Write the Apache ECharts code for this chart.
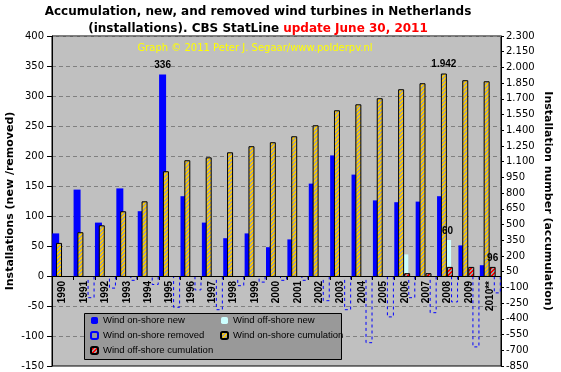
<!DOCTYPE html>
<html><head><meta charset="utf-8">
<script src="https://cdn.jsdelivr.net/npm/echarts@6/dist/echarts.min.js"></script>
<style>html,body{margin:0;padding:0;background:#fff}#c{width:561px;height:372px}</style>
</head><body><div id="c"></div>
<script>
const years = ['1990','1991','1992','1993','1994','1995','1996','1997','1998','1999','2000','2001','2002','2003','2004','2005','2006','2007','2008','2009','2010**'];
const onshoreNew = [71,144,89,146,108,336,133,89,63,71,48,61,154,201,169,126,123,124,133,51,18];
const offshoreNew = [null,null,null,null,null,null,null,null,null,null,null,null,null,null,null,null,36,null,60,null,null];
const onshoreRemoved = [null,-37,-21,-8,-15,-53,-24,-57,-17,-11,-8,-8,-42,-57,-112,-69,-37,-62,-44,-119,-29];
const onshoreCum = [325,427,493,627,722,1009,1114,1142,1190,1248,1286,1343,1448,1591,1648,1706,1792,1849,1942,1878,1868];
const offshoreCum = [null,null,null,null,null,null,null,null,null,null,null,null,null,null,null,null,36,36,96,96,96];
const leftMin = -150, leftMax = 400, leftStep = 50;
const rightTicks = [-850,-700,-550,-400,-250,-100,50,200,350,500,650,800,950,1100,1250,1400,1550,1700,1850,2000,2150,2300];
const labelIdx = {onNew: 5, offNew: 18, onCum: 18, offCum: 20};

const W = 561, H = 372, G = {left:52, right:60, top:36, bottom:6};
const plotH = H - G.top - G.bottom;
// move the category axis up to the y=0 line of the left axis
const zeroOffset = -plotH * (0 - leftMin) / (leftMax - leftMin);

function fmt(v){ const s = String(Math.abs(v)).replace(/\B(?=(\d{3})+(?!\d))/g, '.'); return (v < 0 ? '-' : '') + s; }
function hatch(c1, c2){
  const cv = document.createElement('canvas'); cv.width = 4; cv.height = 4;
  const g = cv.getContext('2d'); g.fillStyle = c1; g.fillRect(0,0,4,4); g.fillStyle = c2;
  for (let x=0;x<4;x++) for (let y=0;y<4;y++) if ((x+y)%4 < 2) g.fillRect(x,y,1,1);
  return {image: cv, repeat: 'repeat'};
}
const dataLabel = {show:true, position:'top', distance:4, color:'#000', fontFamily:'Liberation Sans', fontWeight:'bold', fontSize:10, formatter: p => fmt(p.value)};
function withLabel(arr, idx){ return arr.map((v,i) => i === idx ? {value: v, label: dataLabel} : v); }

const chart = echarts.init(document.getElementById('c'), null, {renderer:'canvas'});
const tickFont = {fontFamily:'DejaVu Sans', fontSize:10, color:'#000'};
const nameFont = {fontFamily:'DejaVu Sans', fontSize:11, fontWeight:'bold', color:'#000'};
chart.setOption({
  animation:false,
  backgroundColor:'#fff',
  grid:Object.assign({containLabel:false, outerBoundsMode:'none', show:true, backgroundColor:'#C0C0C0', borderColor:'#000', borderWidth:1}, G),
  graphic:[
    {type:'text', z:50, style:{x:258, y:3, align:'center', verticalAlign:'top',
      text:'{b|Accumulation, new, and removed wind turbines in Netherlands}\n{b|(installations). CBS StatLine }{r|update June 30, 2011}',
      rich:{b:{fontFamily:'DejaVu Sans', fontWeight:'bold', fontSize:12, fill:'#000', lineHeight:17},
            r:{fontFamily:'DejaVu Sans', fontWeight:'bold', fontSize:12, fill:'#FF0000', lineHeight:17}}}},
    {type:'text', z:50, style:{x:255, y:48, align:'center', verticalAlign:'middle', text:'Graph © 2011 Peter J. Segaar/www.polderpv.nl', fill:'#FFFF00', font:'10px "DejaVu Sans"'}},
    {type:'rect', z:50, shape:{x:84.5, y:313.5, width:257, height:46}, style:{fill:'#999999', stroke:'#000', lineWidth:1}}
  ],
  legend:[
    {z:60, data:['Wind on-shore new','Wind on-shore removed','Wind off-shore cumulation'], orient:'vertical', left:90, top:315, padding:0, itemWidth:7, itemHeight:7, itemGap:4, selectedMode:false,
     textStyle:{fontFamily:'Liberation Sans', fontSize:9.5, color:'#000', lineHeight:11}},
    {z:60, data:['Wind off-shore new','Wind on-shore cumulation'], orient:'vertical', left:220, top:315, padding:0, itemWidth:7, itemHeight:7, itemGap:4, selectedMode:false,
     textStyle:{fontFamily:'Liberation Sans', fontSize:9.5, color:'#000', lineHeight:11}}
  ],
  xAxis:[
    {type:'category', data:years, position:'bottom', offset:zeroOffset, boundaryGap:true, z:20,
     axisLine:{show:true, onZero:false, lineStyle:{color:'#000', width:1}},
     axisTick:{show:true, length:4, inside:false, lineStyle:{color:'#000'}},
     axisLabel:{rotate:90, margin:5, interval:0, fontFamily:'Liberation Sans', fontWeight:'bold', fontSize:10, color:'#000'},
     splitLine:{show:false}},
    {type:'category', data:years, show:false, position:'top', boundaryGap:true, axisLine:{onZero:false}}
  ],
  yAxis:[
    {type:'value', min:leftMin, max:leftMax, interval:leftStep, position:'left',
     name:'Installations (new /removed)', nameLocation:'middle', nameGap:36, nameMoveOverlap:false, nameTextStyle:nameFont,
     axisLine:{show:true, lineStyle:{color:'#000'}},
     axisTick:{show:true, length:5, lineStyle:{color:'#000'}},
     axisLabel:Object.assign({margin:8}, tickFont),
     splitLine:{show:true, lineStyle:{color:'#808080', type:[4,3], width:1}}},
    {type:'value', min:-850, max:2300, position:'right',
     name:'Installation number (accumulation)', nameLocation:'middle', nameGap:41, nameRotate:-90, nameMoveOverlap:false, nameTextStyle:nameFont,
     axisLine:{show:true, lineStyle:{color:'#000'}},
     axisTick:{show:true, length:3, lineStyle:{color:'#000'}, customValues:rightTicks},
     axisLabel:Object.assign({margin:5, customValues:rightTicks, formatter:v => fmt(v)}, tickFont),
     splitLine:{show:false}}
  ],
  series:[
    {name:'Wind on-shore new', type:'bar', xAxisIndex:0, yAxisIndex:0, barWidth:7, barGap:'0%', itemStyle:{color:'#0000FF'}, data:withLabel(onshoreNew, labelIdx.onNew)},
    {name:'Wind off-shore new', type:'bar', xAxisIndex:0, yAxisIndex:0, barWidth:7, barGap:'0%', itemStyle:{color:'#CCFFFF'}, data:withLabel(offshoreNew, labelIdx.offNew)},
    {name:'Wind on-shore removed', type:'bar', xAxisIndex:0, yAxisIndex:0, barWidth:7, barGap:'0%', itemStyle:{color:'rgba(0,0,0,0)', borderColor:'#0000FF', borderWidth:1, borderType:[3,3]}, data:onshoreRemoved},
    {name:'Wind on-shore cumulation', type:'bar', xAxisIndex:1, yAxisIndex:1, barWidth:6, barGap:'0%', itemStyle:{color:hatch('#FFCC00','#A0A0A0'), borderColor:'#000', borderWidth:1}, data:withLabel(onshoreCum, labelIdx.onCum)},
    {name:'Wind off-shore cumulation', type:'bar', xAxisIndex:1, yAxisIndex:1, barWidth:6, barGap:'0%', itemStyle:{color:hatch('#FF0000','#A0A0A0'), borderColor:'#000', borderWidth:1}, data:withLabel(offshoreCum, labelIdx.offCum)},
    {name:'spacer', type:'bar', xAxisIndex:1, yAxisIndex:1, barWidth:1.33, barGap:'0%', silent:true, data:[]}
  ]
});
</script></body></html>
